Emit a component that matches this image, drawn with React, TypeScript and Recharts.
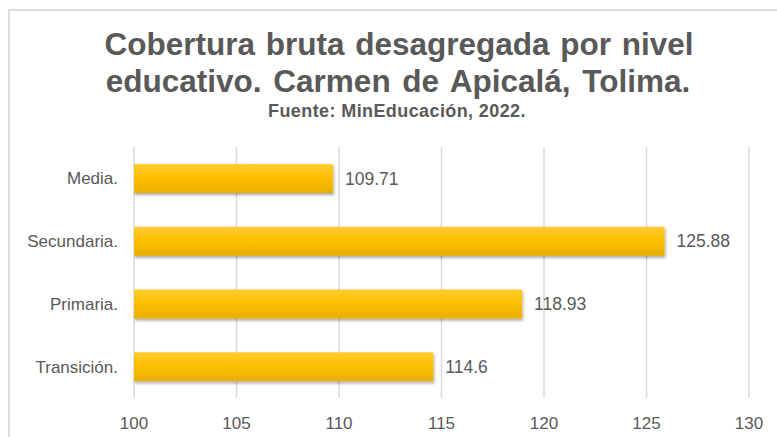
import React from 'react';
import { BarChart, Bar, XAxis, YAxis, CartesianGrid, LabelList } from 'recharts';

const niveles = ['Media.', 'Secundaria.', 'Primaria.', 'Transición.'];
const cobertura = [109.71, 125.88, 118.93, 114.6];
const ticksX = [100, 105, 110, 115, 120, 125, 130];

const data = niveles.map((nivel, i) => ({ nivel, valor: cobertura[i] }));

const FONT = '"Liberation Sans", Arial, sans-serif';
const GRIS = '#595959';

const App: React.FC = () => {
  return (
    <div
      style={{
        position: 'absolute',
        left: 8,
        top: 9,
        width: 767,
        height: 426,
        borderLeft: '2px solid #DDDDDD',
        borderTop: '2px solid #DDDDDD',
        overflow: 'hidden',
        background: '#fff',
        fontFamily: FONT,
      }}
    >
      <svg width={767} height={130} style={{ position: 'absolute', left: 0, top: 0 }}>
        <text x={389} y={44} textAnchor="middle" fill={GRIS} fontSize={31.5} fontWeight="bold" fontFamily={FONT} wordSpacing={2}>
          Cobertura bruta desagregada por nivel
        </text>
        <text x={388} y={81} textAnchor="middle" fill={GRIS} fontSize={31.5} fontWeight="bold" fontFamily={FONT} wordSpacing={3}>
          educativo. Carmen de Apicalá, Tolima.
        </text>
        <text x={387} y={106} textAnchor="middle" fill={GRIS} fontSize={18} fontWeight="bold" fontFamily={FONT} letterSpacing={0.4}>
          Fuente: MinEducación, 2022.
        </text>
      </svg>
      <div style={{ position: 'absolute', left: 0, top: 0 }}>
        <BarChart
          width={767}
          height={426}
          data={data}
          layout="vertical"
          margin={{ top: 136, right: 28, left: 0, bottom: 9 }}
          barSize={29}
        >
          <defs>
            <linearGradient id="oro" x1="0" y1="0" x2="0" y2="1">
              <stop offset="0%" stopColor="#FFCB33" />
              <stop offset="45%" stopColor="#FFC000" />
              <stop offset="100%" stopColor="#E8AE00" />
            </linearGradient>
            <filter id="sombra" x="-5%" y="-20%" width="110%" height="160%">
              <feDropShadow dx="1" dy="2" stdDeviation="1.5" floodColor="#000" floodOpacity="0.35" />
            </filter>
          </defs>
          <CartesianGrid horizontal={false} stroke="#D9D9D9" strokeWidth={1.5} />
          <XAxis
            type="number"
            domain={[100, 130]}
            ticks={ticksX}
            allowDataOverflow
            axisLine={false}
            tickLine={false}
            tickMargin={13}
            height={30}
            tick={{ fill: GRIS, fontSize: 17, fontFamily: FONT }}
          />
          <YAxis
            type="category"
            dataKey="nivel"
            width={124}
            axisLine={false}
            tickLine={false}
            tickMargin={10}
            tick={{ fill: GRIS, fontSize: 17, fontFamily: FONT }}
          />
          <Bar dataKey="valor" fill="url(#oro)" filter="url(#sombra)" isAnimationActive={false}>
            <LabelList dataKey="valor" position="right" offset={12} fill={GRIS} fontSize={17.5} fontFamily={FONT} />
          </Bar>
        </BarChart>
      </div>
    </div>
  );
};

export default App;
